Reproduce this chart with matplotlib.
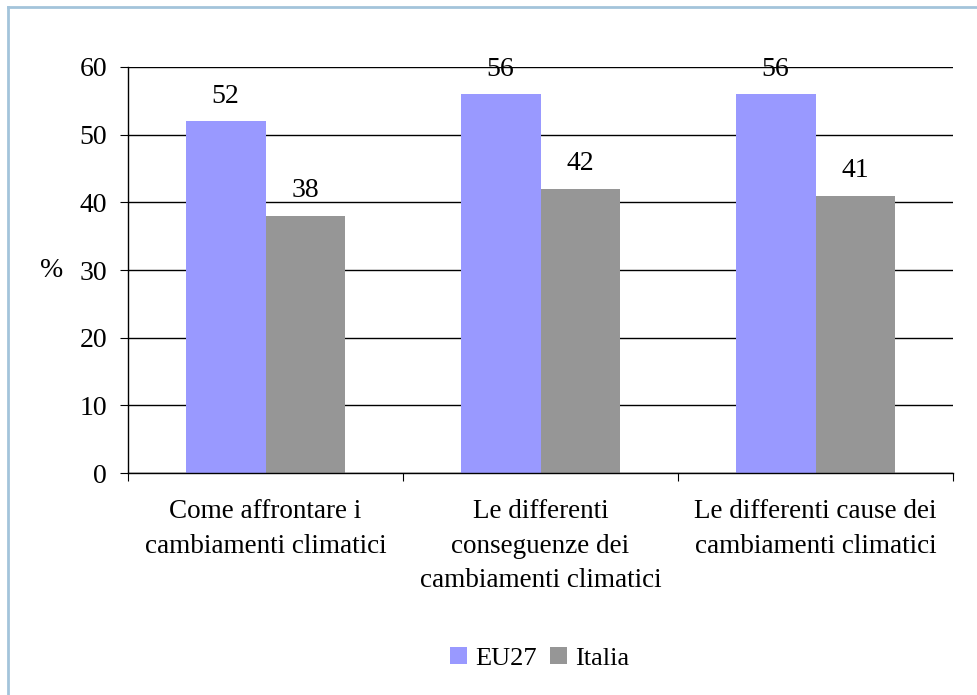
import numpy as np
import matplotlib
matplotlib.use('Agg')
import matplotlib.pyplot as plt
from matplotlib.lines import Line2D

# ── data ─────────────────────────────────────────────
categories = ["Come affrontare i\ncambiamenti climatici",
              "Le differenti\nconseguenze dei\ncambiamenti climatici",
              "Le differenti cause dei\ncambiamenti climatici"]
series_names = ["EU27", "Italia"]
eu27 = [52, 56, 56]
italia = [38, 42, 41]

COLORS = ["#9999FF", "#969696"]

plt.rcParams['font.family'] = ['Liberation Serif', 'DejaVu Serif']
plt.rcParams['font.size'] = 20

fig = plt.figure(figsize=(9.78, 6.95), dpi=100)
ax = fig.add_axes([0.1309, 0.3194, 0.8436, 0.5842])

x = np.arange(len(categories))
w = 0.29
for i, (vals, name) in enumerate(zip([eu27, italia], series_names)):
    pos = x + (i - 0.5) * w
    bars = ax.bar(pos, vals, width=w, color=COLORS[i], label=name, zorder=2)
    for b, v in zip(bars, vals):
        ax.annotate(f"{v}", (b.get_x() + b.get_width() / 2, v),
                    xytext=(0, 9), textcoords='offset points',
                    ha='center', va='bottom', fontsize=20, zorder=3)

ax.set_xlim(-0.5, 2.5)
ax.set_ylim(0, 60)
ax.set_yticks(range(0, 61, 10))
ax.yaxis.grid(True, color='black', linewidth=1, zorder=0)
ax.set_axisbelow(True)

# category boundaries as major ticks, labels on minor ticks
ax.set_xticks([-0.5, 0.5, 1.5, 2.5])
ax.set_xticklabels([])
ax.set_xticks(x, minor=True)
ax.set_xticklabels(categories, minor=True, linespacing=1.5, fontsize=19.5)
ax.tick_params(axis='x', which='major', length=6, direction='out', color='black')
ax.tick_params(axis='x', which='minor', length=0, pad=19)
ax.tick_params(axis='y', length=6, direction='out', pad=9)

for s in ['top', 'right']:
    ax.spines[s].set_visible(False)
for s in ['left', 'bottom']:
    ax.spines[s].set_color('black')
    ax.spines[s].set_linewidth(1)

ax.set_ylabel('%', rotation=0, va='center', ha='center')
ax.yaxis.set_label_coords(-0.093, 0.5)

fig.legend(loc='center', bbox_to_anchor=(0.552, 0.053), ncol=2, frameon=False,
           handlelength=0.65, handleheight=0.65, handletextpad=0.3,
           columnspacing=0.5, fontsize=19)

# light blue frame (left and top edges visible)
fig.add_artist(Line2D([0.0077, 0.0077], [0, 0.99], transform=fig.transFigure,
                      color='#A3C4DB', linewidth=2))
fig.add_artist(Line2D([0.0077, 1.0], [0.99, 0.99], transform=fig.transFigure,
                      color='#A3C4DB', linewidth=2))

plt.savefig('out.png', dpi=100)
plt.close()
